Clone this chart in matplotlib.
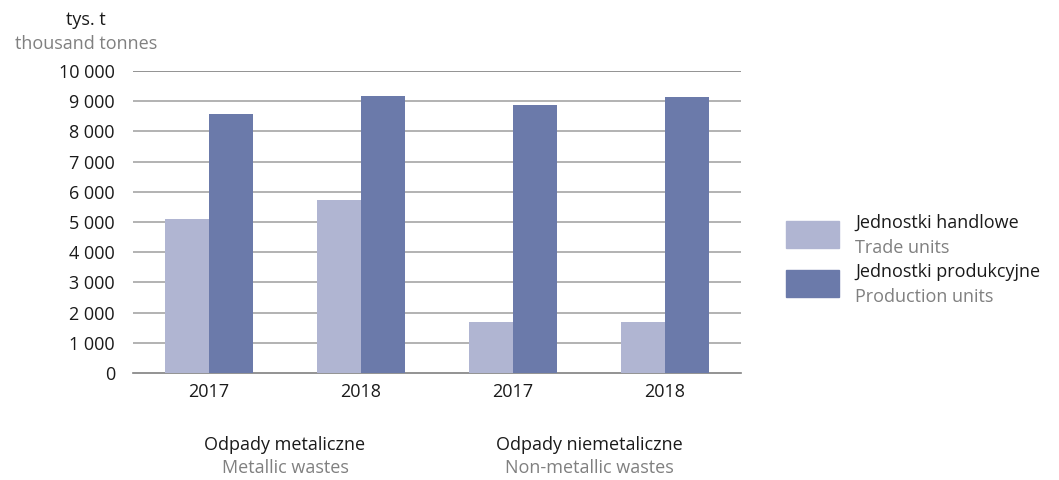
import matplotlib
matplotlib.use("Agg")
import matplotlib.pyplot as plt
import matplotlib.patches as mpatches
import numpy as np

plt.rcParams['font.family'] = ['Open Sans', 'DejaVu Sans']

years = ["2017", "2018", "2017", "2018"]
groups_pl = ["Odpady metaliczne", "Odpady niemetaliczne"]
groups_en = ["Metallic wastes", "Non-metallic wastes"]
trade = [5100, 5730, 1690, 1690]
production = [8580, 9170, 8870, 9140]
series_pl = ["Jednostki handlowe", "Jednostki produkcyjne"]
series_en = ["Trade units", "Production units"]
yticks = [0, 1000, 2000, 3000, 4000, 5000, 6000, 7000, 8000, 9000, 10000]

c_trade = "#B0B5D2"
c_prod = "#6B7AAA"
gray = "#808080"
dark = "#1a1a1a"
fs = 13

fig = plt.figure(figsize=(10.59, 4.8), dpi=100)
ax = fig.add_axes([133/1059, 1-373/480, (741-133)/1059, (373-71)/480])

x = np.arange(len(years))
w = 0.29
ax.bar(x - w/2, trade, width=w, color=c_trade, zorder=3)
ax.bar(x + w/2, production, width=w, color=c_prod, zorder=3)

ax.set_xlim(-0.5, 3.5)
ax.set_ylim(0, 10000)
ax.set_yticks(yticks)
ax.set_yticklabels([f"{v:,}".replace(",", " ") for v in yticks], fontsize=fs, color=dark)
ax.set_xticks(x)
ax.set_xticklabels(years, fontsize=fs, color=dark)
ax.tick_params(axis='both', length=0)
ax.tick_params(axis='y', pad=13)
ax.tick_params(axis='x', pad=7)

for v in yticks[1:-1]:
    ax.axhline(v, color="#A6A6A6", lw=1.2, zorder=1)
ax.axhline(10000, color="#808080", lw=1.2, zorder=1)
for s in ["top", "right", "left"]:
    ax.spines[s].set_visible(False)
ax.spines["bottom"].set_color("#808080")
ax.spines["bottom"].set_linewidth(1.2)

# group labels
for i, (pl, en) in enumerate(zip(groups_pl, groups_en)):
    cx = (2*i + 0.5 + 0.5) / 4
    fig_x = (133 + cx*608) / 1059
    fig.text(fig_x, 1-445/480, pl, ha="center", va="center", fontsize=fs, color=dark)
    fig.text(fig_x, 1-468/480, en, ha="center", va="center", fontsize=fs, color=gray)

# y unit labels
fig.text(86/1059, 1-20/480, "tys. t", ha="center", va="center", fontsize=fs, color=dark)
fig.text(86/1059, 1-44/480, "thousand tonnes", ha="center", va="center", fontsize=fs, color=gray)

# legend
for j, (col, pl, en) in enumerate(zip([c_trade, c_prod], series_pl, series_en)):
    y0 = 221 + j*49
    fig.patches.append(mpatches.Rectangle((786/1059, 1-(y0+27)/480), 53/1059, 27/480,
                                          transform=fig.transFigure, color=col))
    fig.text(855/1059, 1-(y0+7)/480, pl, ha="left", va="baseline", fontsize=fs, color=dark)
    fig.text(855/1059, 1-(y0+32)/480, en, ha="left", va="baseline", fontsize=fs, color=gray)

fig.savefig("out.png", dpi=100)
